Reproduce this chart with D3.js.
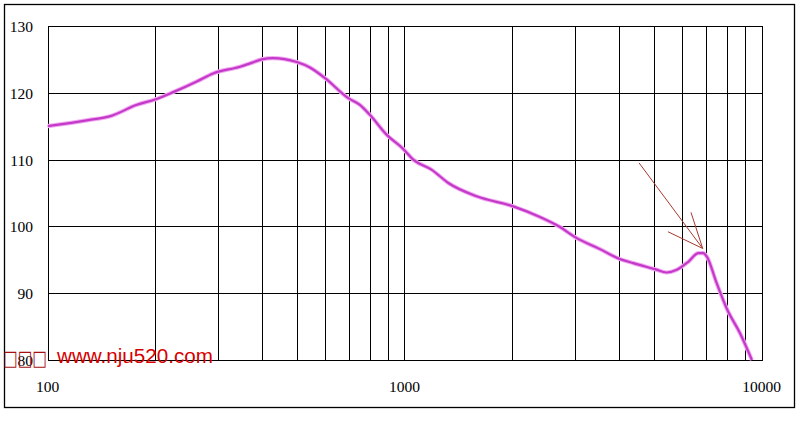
<!DOCTYPE html>
<html>
<head>
<meta charset="utf-8">
<script src="https://cdn.jsdelivr.net/npm/d3@7"></script>
<style>
  html, body { margin: 0; padding: 0; background: #fff; }
  svg { display: block; }
</style>
</head>
<body>
<svg id="chart" width="807" height="426"></svg>
<script>
// ---- data ----
const freqs = [100,130,150,178,200,225,262,291,346,369,398,428,499,543,599,696,750,800,892,992,1058,1190,1327,1593,2017,2397,2727,3004,3529,4015,4375,5030,5426,5788,6237,6653,6871,7023,7490,7991,8707,9400];
const spl   = [115.0,115.9,116.5,118.2,119.0,120.1,121.7,122.9,123.9,124.4,125.0,125.2,124.6,123.8,122.2,119.2,118.2,116.7,113.7,111.6,110.0,108.5,106.5,104.5,103.0,101.4,99.9,98.4,96.6,95.1,94.5,93.6,93.1,93.5,94.7,96.0,96.0,95.5,91.5,87.7,84.0,80.0];
const yTicks = [80, 90, 100, 110, 120, 130];
const xLabelTicks = [100, 1000, 10000];
const xGridTicks = [200,300,400,500,600,700,800,900,1000,2000,3000,4000,5000,6000,7000,8000,9000];
const watermarkBoxes = "□□□";
const watermarkText = "www.nju520.com";
// arrow annotation (in data units: freq, dB)
const arrowTip = [6843, 96.7];
const arrowTail = [4540, 109.5];
const arrowBarbs = [[5470, 99.2], [6346, 102.1]];

// ---- layout ----
const svg = d3.select("#chart");
const x = d3.scaleLog().domain([100, 10000]).range([47.5, 761.5]);
const y = d3.scaleLinear().domain([80, 130]).range([360, 26]);

// outer frame
svg.append("rect").attr("x", 4.5).attr("y", 4.5).attr("width", 790).attr("height", 403)
  .attr("fill", "none").attr("stroke", "#000").attr("stroke-width", 1.3);

// grid
const g = svg.append("g").attr("shape-rendering", "crispEdges");
g.selectAll(".hg").data(yTicks).join("line")
  .attr("x1", x(100)).attr("x2", x(10000))
  .attr("y1", d => Math.round(y(d)) + 0.5).attr("y2", d => Math.round(y(d)) + 0.5)
  .attr("stroke", "#000").attr("stroke-width", 1);
g.selectAll(".vg").data([100, ...xGridTicks, 10000]).join("line")
  .attr("x1", d => Math.round(x(d)) + 0.5).attr("x2", d => Math.round(x(d)) + 0.5)
  .attr("y1", y(130)).attr("y2", y(80) + 1)
  .attr("stroke", "#000").attr("stroke-width", 1);

// y labels
svg.selectAll(".yl").data(yTicks).join("text")
  .attr("x", 33).attr("y", d => y(d) + 6)
  .attr("text-anchor", "end")
  .attr("font-family", "Liberation Serif, serif").attr("font-size", 15.5)
  .attr("fill", "#000").text(d => d);

// x labels
svg.selectAll(".xl").data(xLabelTicks).join("text")
  .attr("x", d => x(d)).attr("y", 392)
  .attr("text-anchor", "middle")
  .attr("font-family", "Liberation Serif, serif").attr("font-size", 15.5)
  .attr("fill", "#000").text(d => d);

// curve
svg.append("clipPath").attr("id", "clip").append("rect")
  .attr("x", x(100)).attr("y", y(130)).attr("width", x(10000) - x(100)).attr("height", y(80) - y(130) + 1);
const line = d3.line().x((d, i) => x(freqs[i])).y(d => y(d)).curve(d3.curveMonotoneX);
const cg = svg.append("g").attr("clip-path", "url(#clip)");
cg.append("path").attr("d", line(spl)).attr("fill", "none")
  .attr("stroke", "#f3a8f3").attr("stroke-width", 4.2).attr("stroke-linejoin", "round");
cg.append("path").attr("d", line(spl)).attr("fill", "none")
  .attr("stroke", "#c43ac8").attr("stroke-width", 2.2).attr("stroke-linejoin", "round");

// arrow
const ag = svg.append("g").attr("stroke", "#a8382e").attr("stroke-width", 1);
ag.append("line").attr("x1", x(arrowTail[0])).attr("y1", y(arrowTail[1]))
  .attr("x2", x(arrowTip[0])).attr("y2", y(arrowTip[1]));
arrowBarbs.forEach(b => {
  ag.append("line").attr("x1", x(b[0])).attr("y1", y(b[1]))
    .attr("x2", x(arrowTip[0])).attr("y2", y(arrowTip[1]));
});

// watermark
svg.append("text").attr("x", 3).attr("y", 365)
  .attr("font-family", "DejaVu Sans, sans-serif").attr("font-size", 21)
  .attr("fill", "#a81010").attr("textLength", 44).attr("lengthAdjust", "spacingAndGlyphs")
  .text(watermarkBoxes);
svg.append("text").attr("x", 57).attr("y", 363)
  .attr("font-family", "Liberation Sans, Arial, sans-serif").attr("font-size", 20)
  .attr("fill", "#d80000").attr("textLength", 156).attr("lengthAdjust", "spacingAndGlyphs")
  .text(watermarkText);
</script>
</body>
</html>
